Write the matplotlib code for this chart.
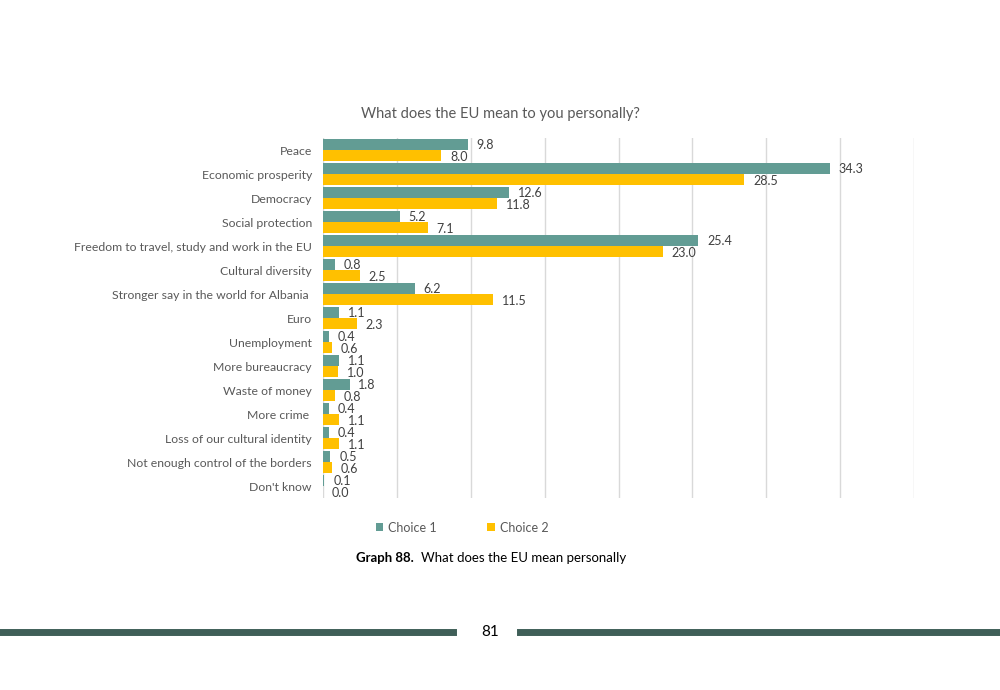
import matplotlib.pyplot as plt
import numpy as np

# données
categories = ["Peace", "Economic prosperity", "Democracy", "Social protection",
              "Freedom to travel, study and work in the EU", "Cultural diversity",
              "Stronger say in the world for Albania ", "Euro", "Unemployment",
              "More bureaucracy", "Waste of money", "More crime ",
              "Loss of our cultural identity", "Not enough control of the borders",
              "Don't know"]
choice1 = [9.8, 34.3, 12.6, 5.2, 25.4, 0.8, 6.2, 1.1, 0.4, 1.1, 1.8, 0.4, 0.4, 0.5, 0.1]
choice2 = [8.0, 28.5, 11.8, 7.1, 23.0, 2.5, 11.5, 2.3, 0.6, 1.0, 0.8, 1.1, 1.1, 0.6, 0.0]

teal = "#629C94"
yellow = "#FFC000"
grey_txt = "#595959"

plt.rcParams['font.family'] = ['Lato', 'DejaVu Sans']

fig = plt.figure(figsize=(10, 6.9), dpi=100)
ax = fig.add_axes([0.323, 0.278, 0.591, 0.522])

y = np.arange(len(categories))
h = 0.45
ax.barh(y - h / 2, choice1, height=h, color=teal, label="Choice 1", zorder=3)
ax.barh(y + h / 2, choice2, height=h, color=yellow, label="Choice 2", zorder=3)

for i in range(len(categories)):
    ax.text(choice1[i] + 0.6, y[i] - h / 2, f"{choice1[i]:.1f}", va='center', ha='left',
            fontsize=9, color="#404040")
    ax.text(choice2[i] + 0.6, y[i] + h / 2 + 0.05, f"{choice2[i]:.1f}", va='center', ha='left',
            fontsize=9, color="#404040")

ax.set_xlim(0, 40)
ax.set_ylim(len(categories) - 0.5, -0.5)
ax.set_yticks(y)
ax.set_yticklabels(categories, fontsize=8.8, color=grey_txt)
ax.tick_params(axis='y', length=0, pad=8)
ax.set_xticks(np.arange(0, 41, 5))
ax.tick_params(axis='x', length=0, labelbottom=False)
ax.grid(axis='x', color="#D9D9D9", linewidth=1, zorder=0)
for s in ax.spines.values():
    s.set_visible(False)

fig.text(0.5, 0.835, "What does the EU mean to you personally?", ha='center', va='center',
         fontsize=10.5, color=grey_txt)

fig.legend(loc='center', bbox_to_anchor=(0.462, 0.235), ncol=2, frameon=False,
           fontsize=9, handlelength=0.6, handleheight=0.6, columnspacing=4,
           handletextpad=0.4, labelcolor=grey_txt)

fig.text(0.356, 0.191, "Graph 88.", fontweight='bold', fontsize=9.5, ha='left', va='center')
fig.text(0.421, 0.191, "What does the EU mean personally", fontsize=9.5, ha='left', va='center')

# pied de page
fig.add_artist(plt.Line2D([0, 0.453], [0.084, 0.084], color="#3F5F58", linewidth=5))
fig.add_artist(plt.Line2D([0.52, 1.0], [0.084, 0.084], color="#3F5F58", linewidth=5))
fig.text(0.49, 0.084, "81", fontsize=11, ha='center', va='center')

fig.savefig("out.png", dpi=100, facecolor='white')
